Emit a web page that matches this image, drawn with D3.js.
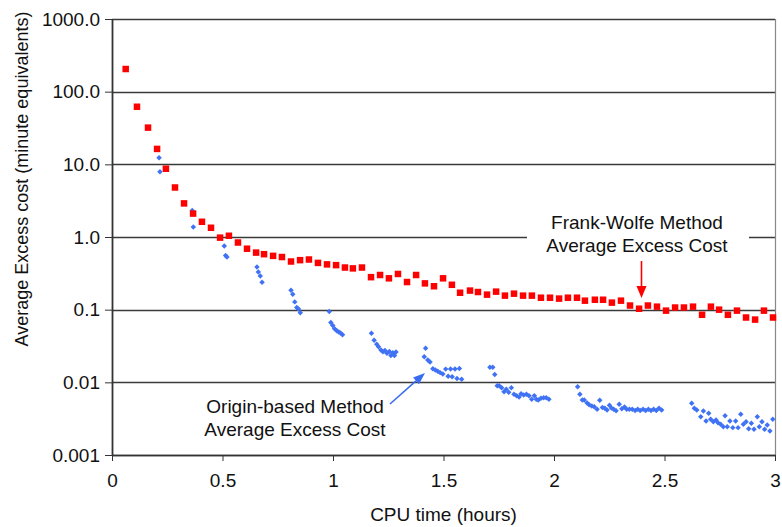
<!DOCTYPE html>
<html>
<head>
<meta charset="utf-8">
<script src="https://cdn.jsdelivr.net/npm/d3@7"></script>
<style>
  html, body { margin: 0; padding: 0; background: #fff; }
  svg text { font-family: "Liberation Sans", Arial, Helvetica, sans-serif; fill: #111; }
</style>
</head>
<body>
<svg id="chart" width="782" height="527"></svg>
<script>
// Frank-Wolfe method: CPU time (hours) and average excess cost (minute equivalents)
const fwTime = [0.062,0.113,0.163,0.204,0.244,0.285,0.326,0.367,0.407,0.448,
  0.489,0.529,0.570,0.611,0.652,0.688,0.729,0.769,0.810,0.851,
  0.891,0.932,0.973,1.014,1.054,1.090,1.131,1.172,1.213,1.253,
  1.294,1.335,1.376,1.416,1.457,1.498,1.538,1.575,1.620,1.656,
  1.697,1.738,1.778,1.819,1.860,1.900,1.941,1.982,2.023,2.063,
  2.104,2.140,2.185,2.222,2.262,2.303,2.344,2.385,2.425,2.466,
  2.507,2.548,2.588,2.629,2.670,2.710,2.747,2.787,2.828,2.869,
  2.910,2.950,2.991];
const fwCost = [205,62,32,16.3,8.7,4.8,2.9,2.1,1.62,1.34,
  0.98,1.04,0.84,0.69,0.61,0.58,0.55,0.53,0.46,0.48,
  0.49,0.44,0.42,0.41,0.38,0.37,0.38,0.28,0.30,0.27,
  0.31,0.24,0.30,0.23,0.21,0.27,0.22,0.171,0.183,0.175,
  0.161,0.177,0.156,0.166,0.156,0.156,0.146,0.146,0.142,0.146,
  0.146,0.133,0.137,0.137,0.125,0.133,0.114,0.103,0.114,0.110,
  0.097,0.107,0.107,0.110,0.085,0.110,0.100,0.085,0.097,0.078,
  0.073,0.097,0.078];

// Origin-based method
const obTime = [0.213,0.217,0.363,0.368,0.508,0.514,0.520,0.656,0.662,0.671,0.679,
  0.810,0.818,0.827,0.836,0.844,0.852,
  0.983,0.990,0.999,1.007,1.017,1.026,1.034,1.043,
  1.174,1.186,1.198,1.206,1.217,1.226,1.235,1.244,1.255,1.262,1.271,1.278,1.285,
  1.413,1.419,1.429,1.439,1.452,1.463,1.474,1.485,1.497,1.510,1.521,1.532,1.539,1.552,1.561,1.572,1.582,
  1.710,1.723,1.732,1.743,1.752,1.763,1.774,1.784,1.795,1.807,1.819,1.831,1.842,1.851,1.863,1.875,1.887,1.899,1.911,1.920,1.929,1.941,1.953,1.965,1.977,
  2.107,2.117,2.128,2.137,2.150,2.159,2.171,2.182,2.195,2.207,2.219,2.230,2.240,2.251,2.260,2.270,2.281,2.295,2.307,2.319,2.329,2.341,2.354,2.367,2.379,2.390,2.403,2.415,2.427,2.439,2.451,2.463,2.475,2.487,
  2.623,2.635,2.646,2.664,2.676,2.688,2.700,2.709,2.721,2.733,2.742,2.754,2.766,2.774,2.784,2.796,2.809,2.822,2.833,2.845,2.857,2.869,2.881,2.893,2.905,2.920,2.929,2.941,2.953,2.965,2.977,2.990];
const obCost = [12.3,7.92,2.32,1.37,0.752,0.557,0.531,0.387,0.330,0.291,0.238,
  0.185,0.163,0.128,0.107,0.102,0.0909,
  0.0944,0.0666,0.0606,0.0547,0.0514,0.0493,0.0478,0.0451,
  0.0473,0.0379,0.0335,0.0309,0.0279,0.0264,0.0274,0.0251,0.0266,0.0234,0.0255,0.0234,0.0262,
  0.0225,0.0294,0.0203,0.0191,0.0154,0.0148,0.0142,0.0136,0.0130,0.0152,0.0121,0.0153,0.0119,0.0153,0.0113,0.0155,0.0110,
  0.0161,0.0161,0.0128,0.00899,0.00899,0.00844,0.00743,0.00802,0.00730,0.00844,0.00685,0.00655,0.00629,0.00698,0.00670,0.00685,0.00655,0.00584,0.00655,0.00584,0.00572,0.00603,0.00615,0.00615,0.00584,
  0.00871,0.00685,0.00572,0.00572,0.00520,0.00493,0.00473,0.00462,0.00426,0.00566,0.00451,0.00439,0.00416,0.00483,0.00444,0.00427,0.00406,0.00499,0.00434,0.00458,0.00427,0.00426,0.00426,0.00410,0.00426,0.00410,0.00426,0.00410,0.00426,0.00410,0.00426,0.00410,0.00439,0.00416,
  0.00515,0.00439,0.00416,0.00337,0.00403,0.00294,0.00375,0.00310,0.00287,0.00303,0.00278,0.00265,0.00245,0.00348,0.00245,0.00294,0.00238,0.00294,0.00238,0.00363,0.00265,0.00287,0.00230,0.00273,0.00226,0.00337,0.00245,0.00287,0.00226,0.00259,0.00214,0.00310];

// Axis ticks
const yTickValues = [1000, 100, 10, 1, 0.1, 0.01, 0.001];
const yTickLabels = ["1000.0", "100.0", "10.0", "1.0", "0.1", "0.01", "0.001"];
const xTickValues = [0, 0.5, 1, 1.5, 2, 2.5, 3];
const xTickLabels = ["0", "0.5", "1", "1.5", "2", "2.5", "3"];

const svg = d3.select("#chart");
const plot = { left: 112, right: 775, top: 19, bottom: 455 };

const x = d3.scaleLinear().domain([0, 3]).range([plot.left, plot.right]);
const y = d3.scaleLog().domain([0.001, 1000]).range([plot.bottom, plot.top]);

// horizontal gridlines
svg.append("g").selectAll("line")
  .data(yTickValues)
  .join("line")
  .attr("x1", plot.left).attr("x2", plot.right)
  .attr("y1", d => Math.round(y(d)) + 0.5).attr("y2", d => Math.round(y(d)) + 0.5)
  .attr("stroke", "#3a3a3a").attr("stroke-width", 1.4);

// right border of the plot area
svg.append("line")
  .attr("x1", plot.right + 0.5).attr("x2", plot.right + 0.5)
  .attr("y1", plot.top).attr("y2", plot.bottom)
  .attr("stroke", "#888").attr("stroke-width", 1.2);

// white label box that interrupts the 1.0 gridline
svg.append("rect")
  .attr("x", 527).attr("y", 206).attr("width", 222).attr("height", 52)
  .attr("fill", "#fff");

// y axis
const yAxis = d3.axisLeft(y)
  .tickValues(yTickValues)
  .tickFormat((d, i) => yTickLabels[i])
  .tickSizeInner(7).tickSizeOuter(0).tickPadding(5);
const gy = svg.append("g")
  .attr("transform", `translate(${plot.left},0)`)
  .call(yAxis);
gy.select(".domain").attr("stroke", "#333").attr("stroke-width", 1.8);
gy.selectAll(".tick line").attr("stroke", "#333");
gy.selectAll(".tick text").style("font-size", "19px").attr("fill", "#111");

// x axis
const xAxis = d3.axisBottom(x)
  .tickValues(xTickValues)
  .tickFormat((d, i) => xTickLabels[i])
  .tickSizeInner(6).tickSizeOuter(0).tickPadding(13);
const gx = svg.append("g")
  .attr("transform", `translate(0,${plot.bottom})`)
  .call(xAxis);
gx.select(".domain").attr("stroke", "#333").attr("stroke-width", 1.4);
gx.selectAll(".tick line").attr("stroke", "#333");
gx.selectAll(".tick text").style("font-size", "19px").attr("fill", "#111");

// axis titles
svg.append("text")
  .attr("x", (plot.left + plot.right) / 2).attr("y", 521)
  .attr("text-anchor", "middle")
  .style("font-size", "19px")
  .text("CPU time (hours)");

svg.append("text")
  .attr("transform", "translate(28,179) rotate(-90)")
  .attr("text-anchor", "middle")
  .style("font-size", "18px")
  .text("Average Excess cost (minute equivalents)");

// Origin-based series: small blue diamonds
const diamond = d3.symbol().type(d3.symbolSquare).size(15)();
svg.append("g").selectAll("path")
  .data(obTime.map((t, i) => [t, obCost[i]]))
  .join("path")
  .attr("d", diamond)
  .attr("transform", d => `translate(${x(d[0])},${y(d[1])}) rotate(45)`)
  .attr("fill", "#3f72f4");

// Frank-Wolfe series: red squares
const sq = 6.5;
svg.append("g").selectAll("rect")
  .data(fwTime.map((t, i) => [t, fwCost[i]]))
  .join("rect")
  .attr("x", d => x(d[0]) - sq / 2)
  .attr("y", d => y(d[1]) - sq / 2)
  .attr("width", sq).attr("height", sq)
  .attr("fill", "#ff0000");

// annotations
function arrow(x1, y1, x2, y2, color, headLen, headW) {
  const ang = Math.atan2(y2 - y1, x2 - x1);
  const bx = x2 - headLen * Math.cos(ang), by = y2 - headLen * Math.sin(ang);
  svg.append("line")
    .attr("x1", x1).attr("y1", y1).attr("x2", bx).attr("y2", by)
    .attr("stroke", color).attr("stroke-width", 1.6);
  const px = -Math.sin(ang) * headW / 2, py = Math.cos(ang) * headW / 2;
  svg.append("path")
    .attr("d", `M${x2},${y2}L${bx + px},${by + py}L${bx - px},${by - py}Z`)
    .attr("fill", color);
}

const fwLabel = svg.append("text")
  .attr("text-anchor", "middle").style("font-size", "19px");
fwLabel.append("tspan").attr("x", 637).attr("y", 229).text("Frank-Wolfe Method");
fwLabel.append("tspan").attr("x", 637).attr("y", 252).text("Average Excess Cost");
arrow(641.5, 261, 641.5, 298, "#ff0000", 12, 10);

const obLabel = svg.append("text")
  .attr("text-anchor", "middle").style("font-size", "19px");
obLabel.append("tspan").attr("x", 295).attr("y", 413).text("Origin-based Method");
obLabel.append("tspan").attr("x", 295).attr("y", 436).text("Average Excess Cost");
arrow(390, 404, 425, 373, "#3a6cf0", 12, 9);
</script>
</body>
</html>
